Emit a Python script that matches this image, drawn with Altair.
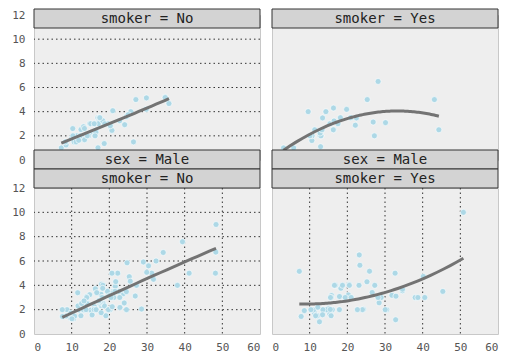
import altair as alt
import pandas as pd

# ---- data: total bill / tip by sex and smoker ----
FN_bill = [16.99,24.59,35.26,14.83,10.33,16.97,20.29,15.77,19.65,15.06,20.69,16.93,10.29,34.81,26.41,16.45,17.07,14.73,10.07,34.83,
           22.75,20.92,7.25,25.71,17.31,10.65,12.43,24.08,13.42,12.48,29.8,14.52,11.38,20.27,11.17,12.26,18.26,8.51,10.33,14.15,
           13.16,17.47,27.05,16.43,8.35,18.64,11.87,29.85,25.0,13.39,16.21,15.98,35.83,18.78]
FN_tip = [1.01,3.61,5.0,3.02,1.67,3.5,2.75,2.23,3.0,3.0,2.45,3.07,2.6,5.2,1.5,2.47,3.0,2.2,1.83,5.17,
          3.25,4.08,1.0,4.0,3.5,1.5,1.8,2.92,1.68,2.52,4.2,2.0,2.0,2.83,1.5,2.0,3.25,1.25,2.0,2.0,
          2.75,3.5,5.0,2.3,1.5,1.36,1.63,5.14,3.75,2.61,2.0,3.0,4.67,3.0]

FY_bill = [3.07,26.86,25.28,5.75,16.32,11.35,15.38,44.3,22.42,14.31,17.51,10.59,10.63,9.6,20.9,18.15,19.81,43.11,13.0,12.74,
           13.0,16.4,16.47,12.76,13.27,28.17,12.9,30.14,13.42,16.27,10.09,22.12,27.18]
FY_tip = [1.0,3.14,5.0,1.0,4.3,2.5,3.0,2.5,3.48,4.0,3.0,1.61,2.0,4.0,3.5,3.5,4.19,5.0,2.0,2.01,
          2.0,2.5,3.23,2.23,2.5,6.5,1.1,3.09,3.48,2.5,2.0,2.88,2.0]

MN_bill = [10.34,21.01,23.68,25.29,8.77,26.88,15.04,14.78,10.27,15.42,18.43,21.58,16.29,20.65,17.92,39.42,19.82,17.81,13.37,12.69,
           21.7,9.55,18.35,17.78,24.06,16.31,18.69,31.27,16.04,17.46,13.94,9.68,30.4,18.29,22.23,32.4,28.55,18.04,12.54,9.94,
           25.56,19.49,48.27,17.59,20.08,20.23,12.02,10.51,27.2,22.76,17.29,16.66,15.98,13.03,18.28,24.71,21.16,22.49,12.46,18.24,
           14.0,38.07,23.95,29.93,11.69,14.26,15.95,8.52,22.82,19.08,34.3,41.19,9.78,7.51,14.07,13.13,17.26,24.55,19.77,48.17,
           16.49,21.5,12.66,13.81,24.52,20.76,31.71,20.69,7.56,48.33,20.45,13.28,11.61,10.77,10.07,29.03,17.82]
MN_tip = [1.66,3.5,3.31,4.71,2.0,3.12,1.96,3.23,1.71,1.57,3.0,3.92,3.71,3.35,4.08,7.58,3.18,2.34,2.0,2.0,
          4.3,1.45,2.5,3.27,3.6,2.0,2.31,5.0,2.24,2.54,3.06,1.32,5.6,3.0,5.0,6.0,2.05,3.0,2.5,1.56,
          4.34,3.51,6.73,2.64,3.15,2.01,1.97,1.25,4.0,3.0,2.71,3.4,2.03,2.0,4.0,5.85,3.0,3.5,1.5,3.76,
          3.0,4.0,2.55,5.07,2.31,2.5,2.0,1.48,2.18,1.5,6.7,5.0,1.73,2.0,2.5,2.0,2.74,2.0,2.0,5.0,
          2.0,3.5,2.5,2.0,3.48,2.24,4.5,5.0,1.44,9.0,3.0,2.72,3.39,1.47,1.25,5.92,1.75]

MY_bill = [38.01,11.24,20.29,13.81,11.02,18.29,15.01,17.92,19.44,32.68,28.97,40.17,27.28,12.03,21.01,15.36,20.49,25.21,16.0,50.81,
           15.81,7.25,31.85,16.82,32.9,17.89,14.48,34.63,34.65,23.33,45.35,23.17,40.55,30.46,23.1,15.69,28.44,15.48,16.58,10.34,
           13.51,18.71,20.53,26.59,38.73,24.27,30.06,25.89,28.15,11.59,7.74,12.16,8.58,13.42,24.01,15.69,15.53,12.6,32.83,22.67]
MY_tip = [3.0,1.76,3.21,2.0,1.98,3.76,2.09,3.08,3.0,5.0,3.0,4.73,4.0,1.5,3.0,1.64,4.06,4.29,2.0,10.0,
          3.16,5.15,3.18,4.0,3.11,2.0,2.0,3.55,3.68,5.65,3.5,6.5,3.0,2.0,4.0,1.5,2.56,2.02,4.0,2.0,
          2.0,4.0,4.0,3.41,3.0,2.03,2.0,5.16,3.0,1.5,1.44,2.2,1.92,1.58,2.0,3.0,3.0,1.0,1.17,2.0]

X_TICKS = [0, 10, 20, 30, 40, 50, 60]
Y_TICKS = [0, 2, 4, 6, 8, 10, 12]

groups = [("Female", "No", FN_bill, FN_tip), ("Female", "Yes", FY_bill, FY_tip),
          ("Male", "No", MN_bill, MN_tip), ("Male", "Yes", MY_bill, MY_tip)]
rows = []
for sex, smoker, bills, tips in groups:
    for b, t in zip(bills, tips):
        rows.append({"sex": sex, "smoker": smoker, "total_bill": b, "tip": t})
df = pd.DataFrame(rows)

W = 226
HDR = 19
FONT = "DejaVu Sans Mono"
XS = alt.Scale(domain=[X_TICKS[0], X_TICKS[-1]], nice=False)
YS = alt.Scale(domain=[Y_TICKS[0], Y_TICKS[-1]], nice=False)
x_inner = pd.DataFrame({"total_bill": [v for v in X_TICKS if X_TICKS[0] < v < X_TICKS[-1]]})
y_inner = pd.DataFrame({"tip": [v for v in Y_TICKS if Y_TICKS[0] < v < Y_TICKS[-1]]})


def header(label, y0):
    src = alt.Chart(pd.DataFrame({"label": [label]}))
    box = src.mark_rect(fill="#d3d3d3", stroke="#333333", strokeWidth=1).encode(
        x=alt.value(0), x2=alt.value(W), y=alt.value(y0), y2=alt.value(y0 + HDR))
    txt = src.mark_text(font=FONT, fontSize=14, color="#222222", baseline="middle", align="center").encode(
        x=alt.value(W / 2), y=alt.value(y0 + HDR / 2 + 0.5), text="label:N")
    return [box, txt]


def panel(sex, smoker, show_x, show_y, top, h):
    xaxis = alt.Axis(values=X_TICKS, labelPadding=7) if show_x else None
    yaxis = alt.Axis(values=Y_TICKS, labelPadding=9) if show_y else None
    x = alt.X("total_bill:Q", scale=XS, axis=xaxis, title=None)
    y = alt.Y("tip:Q", scale=YS, axis=yaxis, title=None)
    layers = []
    # dotted grid lines only where the panel carries that axis
    if show_x:
        layers.append(alt.Chart(x_inner).mark_rule(color="#333333", strokeDash=[1.5, 3], strokeWidth=1).encode(x=x))
    if show_y:
        layers.append(alt.Chart(y_inner).mark_rule(color="#333333", strokeDash=[1.5, 3], strokeWidth=1).encode(y=y))
    base = alt.Chart(df).transform_filter(
        (alt.datum.sex == sex) & (alt.datum.smoker == smoker))
    pts = base.mark_circle(size=36, color="#add8e6", opacity=1, stroke="white", strokeWidth=0.6).encode(x=x, y=y)
    fit = base.transform_regression("total_bill", "tip", method="poly", order=2).mark_line(
        color="#737373", strokeWidth=3).encode(x=x, y=y)
    layers += [pts, fit]
    if top:
        layers += header(f"smoker = {smoker}", -6)
    else:
        layers += header(f"sex = {sex}", -2 * HDR)
        layers += header(f"smoker = {smoker}", -HDR)
    return alt.layer(*layers).properties(width=W, height=h)


p1 = panel("Female", "No", False, True, True, 145)
p2 = panel("Female", "Yes", False, False, True, 145)
p3 = panel("Male", "No", True, True, False, 146)
p4 = panel("Male", "Yes", True, False, False, 146)

chart = alt.concat(p1, p2, p3, p4, columns=2, spacing={"row": 28, "column": 12}, bounds="flush").properties(
    padding={"left": 3, "top": 0, "right": 5, "bottom": 5}
).configure_view(
    fill="#eeeeee", stroke="#c8c8c8", strokeWidth=1
).configure_axis(
    labelFont=FONT, labelFontSize=11, labelColor="#555555", ticks=False, domain=False, grid=False
)

chart.save("out.html", embed_options={"renderer": "svg", "actions": False})
